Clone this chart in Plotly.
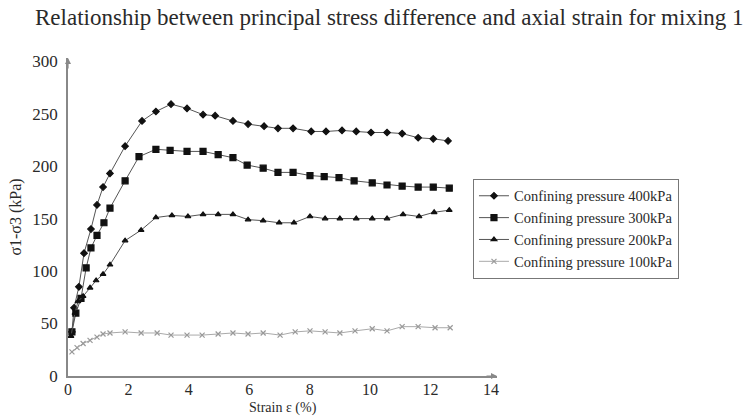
import plotly.graph_objects as go

strain_400 = [0.13, 0.20, 0.36, 0.53, 0.76, 0.96, 1.16, 1.39, 1.89, 2.45, 2.91, 3.41, 3.94, 4.47, 4.87, 5.46, 5.96, 6.49, 6.95, 7.45, 8.05, 8.54, 9.07, 9.54, 10.03, 10.56, 11.06, 11.59, 12.09, 12.58]
stress_400 = [42, 65, 85, 117, 140, 163, 180, 193, 219, 243, 252, 259, 255, 249, 248, 243, 240, 238, 236, 236, 233, 233, 234, 233, 232, 232, 231, 227, 226, 224]

strain_300 = [0.13, 0.26, 0.43, 0.60, 0.76, 0.96, 1.19, 1.39, 1.89, 2.35, 2.91, 3.38, 3.94, 4.47, 4.97, 5.46, 5.93, 6.46, 6.95, 7.45, 8.01, 8.48, 8.97, 9.47, 10.07, 10.56, 11.06, 11.59, 12.09, 12.62]
stress_300 = [42, 60, 74, 103, 122, 134, 146, 160, 186, 209, 216, 215, 214, 214, 211, 208, 201, 198, 194, 194, 191, 190, 189, 186, 184, 182, 181, 180, 180, 179]

strain_200 = [0.10, 0.23, 0.33, 0.50, 0.73, 0.93, 1.16, 1.39, 1.89, 2.42, 2.91, 3.44, 3.97, 4.47, 4.97, 5.46, 5.96, 6.46, 6.99, 7.48, 8.01, 8.51, 9.00, 9.54, 10.07, 10.56, 11.09, 11.62, 12.12, 12.62]
stress_200 = [38, 60, 71, 76, 84, 91, 97, 106, 129, 139, 151, 153, 152, 154, 154, 154, 149, 148, 146, 146, 152, 150, 150, 150, 150, 150, 154, 152, 156, 158]

strain_100 = [0.13, 0.30, 0.50, 0.73, 0.96, 1.16, 1.39, 1.89, 2.42, 2.95, 3.41, 3.94, 4.44, 4.97, 5.46, 5.96, 6.46, 7.02, 7.52, 8.01, 8.51, 9.00, 9.50, 10.07, 10.56, 11.06, 11.59, 12.15, 12.65]
stress_100 = [23, 27, 31, 34, 37, 40, 41, 42, 41, 41, 39, 39, 39, 40, 41, 40, 41, 39, 42, 43, 42, 41, 43, 45, 43, 47, 47, 46, 46]

series_names = ["Confining pressure 400kPa", "Confining pressure 300kPa",
                "Confining pressure 200kPa", "Confining pressure 100kPa"]
x_ticks = [0, 2, 4, 6, 8, 10, 12, 14]
y_ticks = [0, 50, 100, 150, 200, 250, 300]
x_title = "Strain ε (%)"
y_title = "σ1-σ3 (kPa)"

FONT = "Liberation Serif, Times New Roman, serif"
TXT = "#2a2a2a"

fig = go.Figure()
styles = [
    (strain_400, stress_400, "diamond", 5, "#111111", "#555555"),
    (strain_300, stress_300, "square", 6, "#111111", "#555555"),
    (strain_200, stress_200, "triangle-up", 5, "#111111", "#555555"),
    (strain_100, stress_100, "x-thin", 5, "#999999", "#aaaaaa"),
]
for (xs, ys, sym, sz, mc, lc), name in zip(styles, series_names):
    fig.add_trace(go.Scatter(
        x=xs, y=ys, name=name, mode="lines+markers",
        line=dict(color=lc, width=1),
        marker=dict(symbol=sym, size=sz, color=mc,
                    line=dict(color=mc, width=1.2)),
    ))

fig.update_layout(
    width=745, height=417,
    margin=dict(l=68, r=248, t=58, b=41),
    paper_bgcolor="white", plot_bgcolor="white",
    font=dict(family=FONT, color=TXT, size=16),
    title=dict(text="Relationship between principal stress difference and axial strain for mixing 1",
               x=35 / 745, xref="container", xanchor="left", y=1, yref="container", yanchor="top",
               pad=dict(t=9, l=0), font=dict(family=FONT, size=23, color=TXT)),
    showlegend=True,
    legend=dict(x=0.944, y=0.62, xanchor="left", yanchor="top",
                bordercolor="#777777", borderwidth=1, bgcolor="white",
                font=dict(family=FONT, size=14.5, color=TXT),
                tracegroupgap=0, itemwidth=30),
    xaxis=dict(range=[0, 14.2], tickvals=x_ticks, ticks="", showgrid=False, zeroline=False,
               showline=True, linecolor="#888888", linewidth=1.5,
               tickfont=dict(family=FONT, size=16, color=TXT),
               ticklabelstandoff=-2,
               automargin=False),
    yaxis=dict(range=[0, 303], tickvals=y_ticks, ticks="", showgrid=False, zeroline=False,
               showline=True, linecolor="#888888", linewidth=1.5,
               tickfont=dict(family=FONT, size=17, color=TXT),
               ticklabelstandoff=5,
               title=dict(text=y_title, standoff=7, font=dict(family=FONT, size=16, color=TXT)),
               automargin=False),
)

# x-axis title placed just above the bottom edge, like the reference
fig.add_annotation(x=0.5, y=-0.102, xref="paper", yref="paper", text=x_title,
                   showarrow=False, xanchor="center", yanchor="middle",
                   font=dict(family=FONT, size=14, color=TXT))

# axis arrow heads
fig.add_annotation(x=1.0, y=0, xref="paper", yref="paper", ax=-12, ay=0,
                   showarrow=True, arrowhead=2, arrowsize=1, arrowwidth=1.2,
                   arrowcolor="#888888", text="")
fig.add_annotation(x=0, y=1.0, xref="paper", yref="paper", ax=0, ay=12,
                   showarrow=True, arrowhead=2, arrowsize=1, arrowwidth=1.2,
                   arrowcolor="#888888", text="")

fig.write_html("out.html")
